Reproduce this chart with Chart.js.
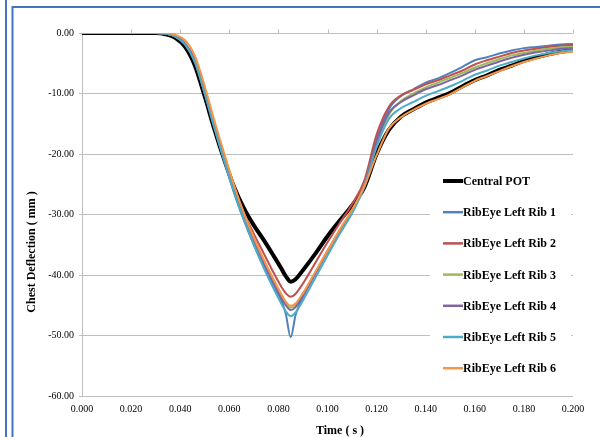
<!DOCTYPE html>
<html>
<head>
<meta charset="utf-8">
<style>
  html, body { margin: 0; padding: 0; background: #fff; }
  #wrap { width: 600px; height: 437px; }
</style>
<script src="https://cdn.jsdelivr.net/npm/chart.js@4.4.1/dist/chart.umd.min.js"></script>
</head>
<body>
<div id="wrap"><canvas id="chart" width="600" height="437"></canvas></div>
<script>
const timeS = [0, 0.010, 0.020, 0.030, 0.034, 0.038, 0.042, 0.046, 0.050, 0.054, 0.058, 0.062, 0.066, 0.070, 0.074, 0.078,
  0.081, 0.083, 0.085, 0.087, 0.090, 0.095, 0.100, 0.105, 0.110, 0.115, 0.120, 0.125, 0.130, 0.135, 0.140, 0.145,
  0.150, 0.155, 0.160, 0.165, 0.170, 0.175, 0.180, 0.185, 0.190, 0.195, 0.200];

const centralPot = [0, 0, 0, 0, -0.2, -0.8, -2.3, -5.4, -10.5, -16.0, -21.0, -25.5, -29.0, -31.8, -34.2, -36.8,
  -38.8, -40.2, -41.1, -40.7, -39.2, -36.5, -33.6, -31.0, -28.5, -25.5, -20.0, -16.0, -13.8, -12.6, -11.5, -10.7,
  -9.9, -8.8, -7.8, -7.0, -6.1, -5.4, -4.6, -4.0, -3.5, -3.1, -2.8];
const rib1 = [0, 0, 0, 0, -0.1, -0.6, -1.9, -4.8, -10.0, -15.8, -21.2, -26.5, -31.0, -35.0, -38.5, -41.8,
  -44.0, -46.4, -50.3, -46.6, -43.6, -39.8, -36.0, -32.6, -29.4, -25.0, -17.6, -12.6, -10.4, -9.3, -8.2, -7.5,
  -6.6, -5.6, -4.5, -4.0, -3.4, -2.9, -2.5, -2.3, -2.1, -1.9, -1.8];
const rib2 = [0, 0, 0, 0, -0.1, -0.6, -1.9, -4.8, -10.0, -15.6, -20.8, -25.8, -29.8, -33.2, -36.4, -39.6,
  -41.8, -43.0, -43.6, -43.1, -41.4, -38.0, -34.6, -31.4, -28.3, -24.4, -16.8, -12.2, -10.3, -9.4, -8.5, -7.8,
  -7.0, -6.2, -5.2, -4.5, -3.9, -3.3, -2.9, -2.6, -2.3, -2.1, -2.0];
const rib3 = [0, 0, 0, 0, -0.1, -0.5, -1.7, -4.5, -9.6, -15.4, -20.8, -26.0, -30.3, -34.2, -37.7, -40.9,
  -43.2, -44.6, -45.4, -44.9, -43.1, -39.6, -36.0, -32.7, -29.4, -25.1, -18.2, -13.5, -11.2, -10.0, -9.0, -8.2,
  -7.4, -6.6, -5.7, -5.0, -4.3, -3.7, -3.3, -2.9, -2.6, -2.4, -2.3];
const rib4 = [0, 0, 0, 0, -0.1, -0.5, -1.7, -4.5, -9.7, -15.5, -21.0, -26.2, -30.5, -34.4, -38.0, -41.3,
  -43.7, -45.0, -45.8, -45.3, -43.4, -39.8, -36.2, -32.8, -29.5, -25.2, -18.0, -13.2, -11.4, -10.3, -9.3, -8.6,
  -7.8, -7.0, -6.1, -5.4, -4.7, -4.1, -3.6, -3.2, -2.9, -2.6, -2.5];
const rib5 = [0, 0, 0, 0, -0.1, -0.6, -1.9, -4.8, -10.0, -15.8, -21.2, -26.4, -30.8, -35.0, -38.8, -42.2,
  -44.6, -46.0, -46.8, -46.2, -44.2, -40.5, -36.8, -33.2, -29.8, -25.5, -18.8, -14.2, -12.4, -11.4, -10.4, -9.6,
  -8.8, -7.9, -6.9, -6.2, -5.4, -4.8, -4.2, -3.7, -3.3, -3.0, -2.8];
const rib6 = [0, 0, 0, 0, 0, -0.3, -1.2, -3.8, -8.8, -14.6, -20.0, -25.2, -29.8, -33.8, -37.4, -40.7,
  -43.0, -44.4, -45.1, -44.7, -43.0, -39.5, -36.0, -32.5, -29.2, -25.4, -20.2, -15.8, -13.9, -12.7, -11.7, -10.9,
  -10.1, -9.0, -7.9, -7.1, -6.3, -5.5, -4.8, -4.2, -3.7, -3.3, -3.1];

const seriesNames = ["Central POT", "RibEye Left Rib 1", "RibEye Left Rib 2", "RibEye Left Rib 3",
  "RibEye Left Rib 4", "RibEye Left Rib 5", "RibEye Left Rib 6"];
const seriesValues = [centralPot, rib1, rib2, rib3, rib4, rib5, rib6];
const seriesColors = ["#000000", "#4F81BD", "#C0504D", "#9BBB59", "#8064A2", "#4BACC6", "#F79646"];

const xTitle = "Time ( s )";
const yTitle = "Chest Deflection ( mm )";

const serif = "'Liberation Serif', 'Times New Roman', serif";

function toPoints(values) {
  return timeS.map((t, i) => ({ x: t, y: values[i] }));
}

// frame lines, axis titles, x tick marks on the zero line, legend box
const decorPlugin = {
  id: "decor",
  beforeDraw(chart) {
    const ctx = chart.ctx;
    ctx.save();
    ctx.fillStyle = "#fff";
    ctx.fillRect(0, 0, chart.width, chart.height);
    ctx.strokeStyle = "#4472C4";
    ctx.lineWidth = 2;
    ctx.beginPath();
    ctx.moveTo(6, 0);
    ctx.lineTo(6, chart.height);
    ctx.moveTo(12.5, chart.height);
    ctx.lineTo(12.5, 7);
    ctx.lineTo(chart.width, 7);
    ctx.stroke();
    ctx.restore();
  },
  afterDatasetsDraw(chart) {
    const ctx = chart.ctx;
    const xs = chart.scales.x;
    const ys = chart.scales.y;
    const y0 = Math.round(ys.getPixelForValue(0)) + 0.5;
    ctx.save();
    ctx.strokeStyle = "#BFBFBF";
    ctx.lineWidth = 1;
    ctx.beginPath();
    for (let v = 0.02; v <= 0.2001; v += 0.02) {
      const px = Math.round(xs.getPixelForValue(v)) + 0.5;
      ctx.moveTo(px, y0);
      ctx.lineTo(px, y0 - 4);
    }
    ctx.stroke();
    ctx.restore();
  },
  afterDraw(chart) {
    const ctx = chart.ctx;
    ctx.save();
    // axis titles
    ctx.fillStyle = "#000";
    ctx.font = "bold 12px " + serif;
    ctx.textAlign = "center";
    ctx.textBaseline = "middle";
    ctx.fillText(xTitle, 340, 431);
    ctx.translate(32, 252);
    ctx.rotate(-Math.PI / 2);
    ctx.fillText(yTitle, 0, 0);
    ctx.restore();

    // legend
    ctx.save();
    ctx.fillStyle = "#fff";
    ctx.fillRect(430, 166, 141, 218);
    ctx.font = "bold 12px " + serif;
    ctx.textAlign = "left";
    ctx.textBaseline = "middle";
    chart.data.datasets.forEach((ds, i) => {
      const cy = 181 + i * 31.2;
      ctx.strokeStyle = ds.borderColor;
      ctx.lineWidth = i === 0 ? 4 : 2.5;
      ctx.beginPath();
      ctx.moveTo(443, cy);
      ctx.lineTo(463, cy);
      ctx.stroke();
      ctx.fillStyle = "#000";
      ctx.fillText(ds.label, 463, cy + 1);
    });
    ctx.restore();
  },
};

function initChart() {
  const el = document.getElementById("chart");
  const datasets = seriesNames.map((name, i) => ({
    label: name,
    data: toPoints(seriesValues[i]),
    borderColor: seriesColors[i],
    backgroundColor: seriesColors[i],
    borderWidth: i === 0 ? 4 : 2,
    pointRadius: 0,
    cubicInterpolationMode: "monotone",
    order: seriesNames.length - i,
  }));

  return new Chart(el.getContext("2d"), {
    type: "line",
    data: { datasets },
    plugins: [decorPlugin],
    options: {
      responsive: false,
      animation: false,
      layout: { padding: { top: 33, right: 27, left: 0, bottom: 0 } },
      plugins: {
        legend: { display: false },
        tooltip: { enabled: false },
      },
      scales: {
        x: {
          type: "linear",
          min: 0,
          max: 0.2,
          afterFit: (s) => { s.height = 41; },
          grid: { display: false, drawTicks: false },
          border: { display: false },
          ticks: {
            stepSize: 0.02,
            padding: 7,
            maxRotation: 0,
            autoSkip: false,
            color: "#000",
            font: { family: serif, size: 10 },
            callback: (v) => Number(v).toFixed(3),
          },
        },
        y: {
          min: -60,
          max: 0,
          afterFit: (s) => { s.width = 82; },
          grid: { color: "#BFBFBF", lineWidth: 1, drawTicks: true, tickLength: 3 },
          border: { color: "#BFBFBF" },
          ticks: {
            stepSize: 10,
            padding: 5,
            color: "#000",
            font: { family: serif, size: 10 },
            callback: (v) => Number(v).toFixed(2),
          },
        },
      },
    },
  });
}

document.addEventListener("DOMContentLoaded", initChart);
</script>
</body>
</html>
